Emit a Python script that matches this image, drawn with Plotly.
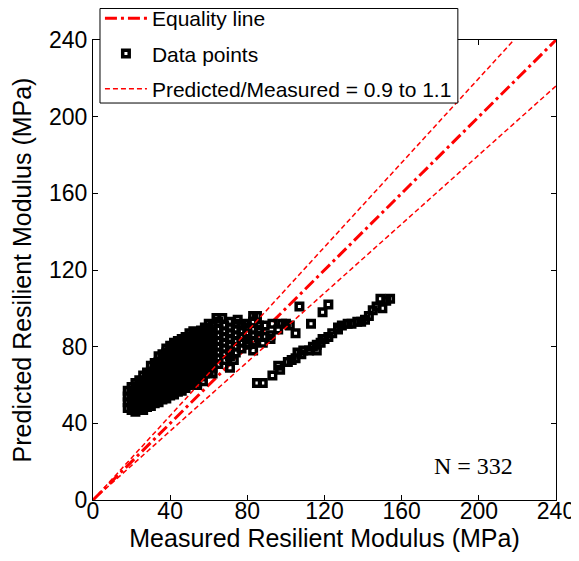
import plotly.graph_objects as go

# Axis ticks
tick_values = [0, 40, 80, 120, 160, 200, 240]

# Dense main cluster (measured, predicted)
cluster_points = [
    (18,48),(18,51),(18,54),(18,57),
    (20,47),(20,50),(20,53),(20,56),(20,59),
    (22,46),(22,49),(22,52),(22,55),(22,58),(22,61),
    (24,47.5),(24,50.5),(24,53.5),(24,56.5),(24,59.5),(24,62.5),
    (26,47),(26,50),(26,53),(26,56),(26,59),(26,62),(26,65),
    (28,48.5),(28,51.5),(28,54.5),(28,57.5),(28,60.5),(28,63.5),(28,66.5),
    (30,49),(30,52),(30,55),(30,58),(30,61),(30,64),(30,67),(30,70),
    (32,50.5),(32,53.5),(32,56.5),(32,59.5),(32,62.5),(32,65.5),(32,68.5),(32,71.5),
    (34,51),(34,54),(34,57),(34,60),(34,63),(34,66),(34,69),(34,72),(34,75),
    (36,52.5),(36,55.5),(36,58.5),(36,61.5),(36,64.5),(36,67.5),(36,70.5),(36,73.5),(36,76),
    (38,53),(38,56),(38,59),(38,62),(38,65),(38,68),(38,71),(38,74),(38,77),(38,79),
    (40,54.5),(40,57.5),(40,60.5),(40,63.5),(40,66.5),(40,69.5),(40,72.5),(40,75.5),(40,78.5),(40,80.5),
    (42,55),(42,58),(42,61),(42,64),(42,67),(42,70),(42,73),(42,76),(42,79),(42,82),
    (44,56.5),(44,59.5),(44,62.5),(44,65.5),(44,68.5),(44,71.5),(44,74.5),(44,77.5),(44,80.5),(44,83),
    (46,57),(46,60),(46,63),(46,66),(46,69),(46,72),(46,75),(46,78),(46,81),(46,84),
    (48,58.5),(48,61.5),(48,64.5),(48,67.5),(48,70.5),(48,73.5),(48,76.5),(48,79.5),(48,82.5),(48,85),
    (50,60),(50,63),(50,66),(50,69),(50,72),(50,75),(50,78),(50,81),(50,84),(50,87),
    (52,61.5),(52,64.5),(52,67.5),(52,70.5),(52,73.5),(52,76.5),(52,79.5),(52,82.5),(52,85.5),(52,88),
    (54,63),(54,66),(54,69),(54,72),(54,75),(54,78),(54,81),(54,84),(54,87),
    (56,64.5),(56,67.5),(56,70.5),(56,73.5),(56,76.5),(56,79.5),(56,82.5),(56,85.5),(56,88.5),
    (58,66),(58,69),(58,72),(58,75),(58,78),(58,81),(58,84),(58,87),(58,90),
    (60,67.5),(60,70.5),(60,73.5),(60,76.5),(60,79.5),(60,82.5),(60,85.5),(60,89),
    (62,69),(62,72),(62,75),(62,78),(62,81),(62,84),(62,87),(62,91),
    (65,71),(65,74),(65,77),(65,80),(65,83),(65,86),(65,89),(65,93),
    (68,73),(68,76),(68,79),(68,82),(68,85),(68,88),(68,91),
    (71,75),(71,78),(71,81),(71,84),(71,87),(71,90),(71,93),
    (74,77),(74,80),(74,83),(74,86),(74,89),(74,92),
    (77,79),(77,82),(77,85),(77,88),(77,91),
    (80,81),(80,84),(80,87),(80,90),
    (83,83),(83,86),(83,89),(83,93),(83,96),
    (86,85),(86,88),(86,91),
]

# Scattered open squares around the cluster
scatter_points = [
    (49,60),(54,60),(60,92),(64,95),(67,95),(75,94),(79,92),(85,96),
    (89,91),(93,92),(100,92),(98,92),(102,91),(96,89),(92,86),(89,85),
    (86,89),(83,93),(105,87),(113,92),(107,101),(73,73),(71,69),(80,82),
    (83,78),(88,82),(92,84),(62,66),(57,62),
]

# Lower branch of data points
branch_points = [
    (85,61),(88,61),(93,65),(97,68),(96,70),(101,72),(103,73),(105,74),
    (106,77),(108,76),(109,78),(112,78),(114,80),(116,78),(116,81),(118,82),
    (119,84),(120,84),(122,85),(124,87),(127,89),(127,90),(129,91),(132,92),
    (134,92),(137,93),(139,93),(141,94),(143,96),(145,99),(147,101),(150,100),
    (149,105),(152,104),(154,105),(122,102),(119,98),
]

all_points = cluster_points + scatter_points + branch_points
measured = [p[0] for p in all_points]
predicted = [p[1] for p in all_points]

# Reference lines
equality_x = [0, 240]
equality_y = [0, 240]
ratio_low, ratio_high = 0.9, 1.1
axis_max = 240
band_x = [0, axis_max / ratio_high, None, 0, axis_max]
band_y = [0, axis_max, None, 0, axis_max * ratio_low]

SANS = "Liberation Sans, Arial, sans-serif"

fig = go.Figure()
fig.add_trace(go.Scatter(
    x=equality_x, y=equality_y, mode="lines", name="Equality line",
    legendgroup="a",
    line=dict(color="#FF0000", width=3, dash="12px,4px,3px,4px"),
))
fig.add_trace(go.Scatter(
    x=measured, y=predicted, mode="markers", name="Data points",
    legendgroup="b",
    marker=dict(symbol="square-open", size=6.5, color="black",
                line=dict(color="black", width=3.5)),
))
fig.add_trace(go.Scatter(
    x=band_x, y=band_y, mode="lines", name="Predicted/Measured = 0.9 to 1.1",
    legendgroup="c",
    line=dict(color="#FF0000", width=1.5, dash="5px,3px"),
    connectgaps=False,
))

axis_common = dict(
    range=[0, 240], tickvals=tick_values, ticks="inside", ticklen=5,
    tickcolor="black", showline=True, linecolor="black", linewidth=1,
    mirror="ticks", showgrid=False, zeroline=False, automargin=False,
    tickfont=dict(family=SANS, size=23, color="black"),
)

# The page body adds an 8px offset, so the figure is 8px smaller
fig.update_layout(
    width=571, height=553,
    margin=dict(l=85, r=23, t=32, b=61, autoexpand=False),
    paper_bgcolor="white", plot_bgcolor="white",
    xaxis=dict(**axis_common, ticklabelstandoff=-10,
               title=dict(text="Measured Resilient Modulus (MPa)", standoff=0,
                          font=dict(family=SANS, size=25, color="black"))),
    yaxis=dict(**axis_common,
               title=dict(text="Predicted Resilient Modulus (MPa)", standoff=10,
                          font=dict(family=SANS, size=25, color="black"))),
    legend=dict(
        x=0.015, y=1.0913, xanchor="left", yanchor="top",
        bgcolor="rgba(0,0,0,0)", borderwidth=0,
        traceorder="grouped", tracegroupgap=5, itemwidth=42,
        font=dict(family=SANS, size=21, color="black"),
    ),
    showlegend=True,
    shapes=[dict(
        type="rect", xref="paper", yref="paper",
        x0=0.0151, x1=0.788, y0=0.863, y1=1.0685,
        line=dict(color="black", width=1), fillcolor="white", layer="above",
    )],
)

fig.add_annotation(
    x=197, y=17.7, xref="x", yref="y", text="N = 332", showarrow=False,
    font=dict(family="Liberation Serif, Times New Roman, serif", size=24, color="black"),
)

fig.write_html("out.html")
